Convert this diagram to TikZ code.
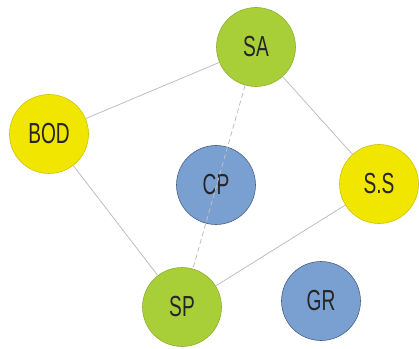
\documentclass[tikz,border=0pt]{standalone}
\usepackage{fontspec}
\newfontfamily\narrowsans[FakeStretch=0.66]{Liberation Sans}
\definecolor{leaf}{RGB}{168,206,56}
\definecolor{lemon}{RGB}{240,230,0}
\definecolor{steel}{RGB}{122,160,210}
\definecolor{wire}{RGB}{190,190,190}
\begin{document}
\begin{tikzpicture}[x=1pt, y=1pt, auto, >=stealth,
	ball/.style={circle, minimum size=79pt, inner sep=0pt, line width=0.6pt,
		font=\narrowsans\fontsize{29}{31}\selectfont, text=black!85},
	greenball/.style={ball, fill=leaf, draw=leaf!85!black},
	yellowball/.style={ball, fill=lemon, draw=lemon!85!black},
	blueball/.style={ball, fill=steel, draw=steel!60!black},
	link/.style={draw=wire, line width=0.8pt}]
	\useasboundingbox (0, 0) rectangle (419, 348);
	\node[greenball] (sa) at (256, 301) {SA};
	\node[yellowball] (bod) at (49, 214) {BOD};
	\node[blueball] (cp) at (216, 163) {CP};
	\node[yellowball] (ss) at (379, 164) {S.S};
	\node[greenball] (sp) at (182, 41) {SP};
	\node[blueball] (gr) at (321, 47) {GR};
	\draw[link] (sa) -- (bod);
	\draw[link] (sa) -- (ss);
	\draw[link] (bod) -- (sp);
	\draw[link] (sp) -- (ss);
	\draw[link, dashed, dash pattern=on 5pt off 3pt] (sa) -- (sp);
      \end{tikzpicture}
\end{document}
